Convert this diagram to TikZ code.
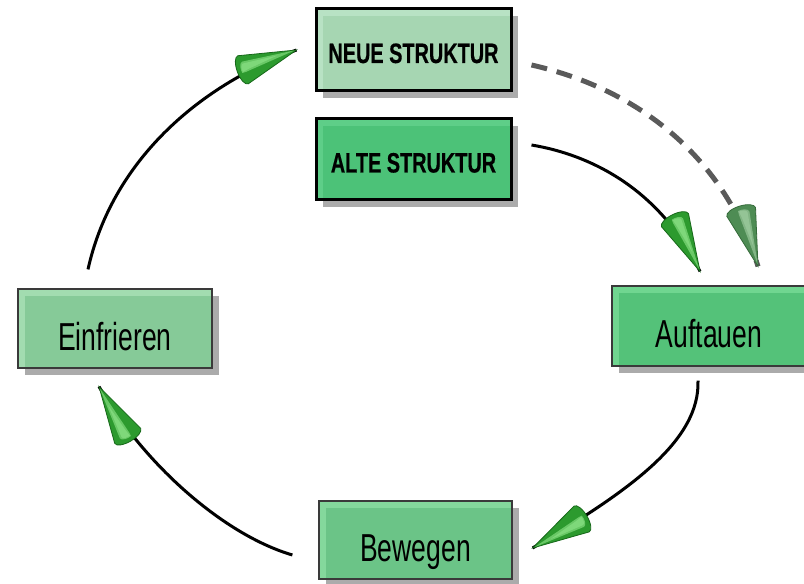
\documentclass[tikz,border=0pt]{standalone}
\usepackage{fontspec}
\newfontfamily\lblfont{Liberation Sans}[FakeStretch=0.68]
\newfontfamily\lblbold{Liberation Sans}[FakeStretch=0.71,FakeBold=0.5]
\usetikzlibrary{shadows,decorations.markings,calc}
\definecolor{shadowgray}{HTML}{ABABAB}
\definecolor{boxborder}{HTML}{3A3A3A}
\definecolor{neuelight}{HTML}{B8E2C4}
\definecolor{neuefill}{HTML}{A6D6B2}
\definecolor{altelight}{HTML}{5ECE88}
\definecolor{altefill}{HTML}{4CC278}
\definecolor{einlight}{HTML}{A2DCB0}
\definecolor{einfill}{HTML}{86CA98}
\definecolor{auflight}{HTML}{70D690}
\definecolor{auffill}{HTML}{54C279}
\definecolor{bewlight}{HTML}{84D89C}
\definecolor{bewfill}{HTML}{6BC487}
\definecolor{conehi}{HTML}{7ED87A}
\definecolor{conemid}{HTML}{2C9A2E}
\definecolor{coneedge}{HTML}{17681A}
\definecolor{dconehi}{HTML}{94C496}
\definecolor{dconemid}{HTML}{4E8C54}
\definecolor{dconeedge}{HTML}{356A3A}
\definecolor{dashgray}{HTML}{5A5A5A}
\tikzset{
  box/.style={rectangle, inner sep=0pt, draw=boxborder, line width=1.2pt,
    drop shadow={shadow xshift=7pt, shadow yshift=-7pt, fill=shadowgray, opacity=1},
    text height=44pt, text depth=0pt,
    font=\lblfont\fontsize{39}{42}\selectfont},
  strukbox/.style={box, draw=black, line width=3pt, text height=26pt, text depth=0pt,
    font=\lblbold\bfseries\fontsize{28}{31}\selectfont},
  bevel/.style 2 args={fill=#1, path picture={\fill[#2] ([xshift=7pt,yshift=-7pt]path picture bounding box.north west) rectangle (path picture bounding box.south east);}},
  cone/.style n args={3}{postaction={decorate}, decoration={markings, mark=at position 0.9999 with {
    \filldraw[solid, line width=0.8pt, draw=#3, fill=#2] (0pt,0pt) -- (-57pt,15pt) arc[start angle=90, end angle=270, x radius=6pt, y radius=15pt] -- cycle;
    \fill[#1, opacity=0.75] (-2pt,0.3pt) -- (-55pt,8pt) arc[start angle=90, end angle=200, x radius=4pt, y radius=8pt] -- (-55pt,-3pt) -- cycle;
    \fill[#1] (-20pt,1.5pt) -- (-55pt,6pt) arc[start angle=90, end angle=200, x radius=3pt, y radius=6pt] -- (-51pt,-1pt) -- cycle;
  }}},
  conn/.style={line width=3pt, black, cone={conehi}{conemid}{coneedge}},
  dconn/.style={line width=5pt, dashgray, dash pattern=on 16pt off 10pt, cone={dconehi}{dconemid}{dconeedge}}
}
\begin{document}
\begin{tikzpicture}[x=1pt,y=1pt]
\useasboundingbox (0,0) rectangle (804,584);
\clip (0,0) rectangle (804,584);
\node[strukbox, bevel={neuelight}{neuefill}, minimum width=195pt, minimum height=82pt] (neue) at (413.5,534) {NEUE STRUKTUR};
\node[strukbox, bevel={altelight}{altefill}, minimum width=195pt, minimum height=81pt] (alte) at (413.5,424.5) {ALTE STRUKTUR};
\node[box, bevel={einlight}{einfill}, minimum width=194pt, minimum height=79pt] (ein) at (115,255.5) {Einfrieren};
\node[box, bevel={auflight}{auffill}, minimum width=194pt, minimum height=80pt] (auf) at (709,258) {Auftauen};
\node[box, bevel={bewlight}{bewfill}, minimum width=193pt, minimum height=78pt] (bew) at (415.5,44) {Bewegen};
\draw[conn] ([shift={(-27pt,19pt)}]ein.north) .. controls +(22,100) and +(-108,-40) .. ([xshift=-18pt]neue.west);
\draw[conn] ([shift={(19pt,14.5pt)}]alte.east) .. controls +(60,-10) and +(-40,82) .. ([shift={(-9pt,14pt)}]auf.north);
\draw[dconn] ([shift={(19pt,-15pt)}]neue.east) .. controls +(110,-25) and +(-33,107) .. ([shift={(49pt,19pt)}]auf.north);
\draw[conn] ([shift={(-11pt,-14pt)}]auf.south) .. controls +(2,-60) and +(98,58) .. ([shift={(20pt,-8pt)}]bew.east);
\draw[conn] ([shift={(-26pt,-15pt)}]bew.west) .. controls +(-68,20) and +(46,-79) .. ([shift={(-16pt,-18pt)}]ein.south);
\end{tikzpicture}
\end{document}
